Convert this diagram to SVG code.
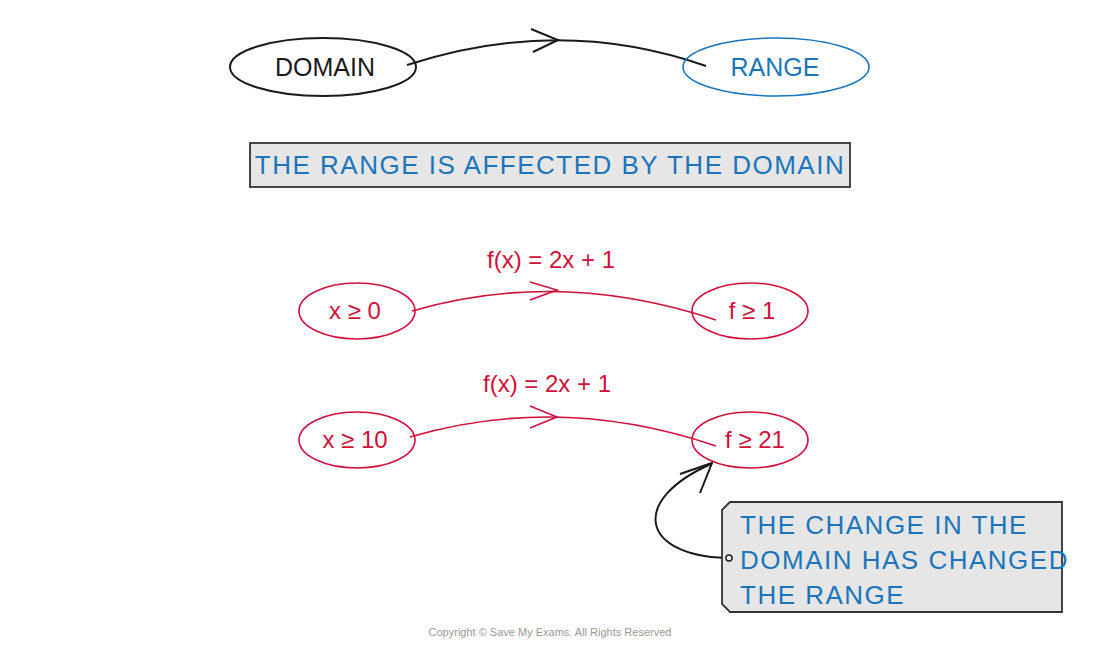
<svg xmlns="http://www.w3.org/2000/svg" width="1100" height="648" viewBox="0 0 1100 648">
<style>
text{font-family:"Liberation Sans",Arial,sans-serif}
.blk{stroke:#1a1a1a;fill:none;stroke-width:2}
.blu{stroke:#1a75bc;fill:none;stroke-width:1.6}
.red{stroke:#d0103a;fill:none;stroke-width:1.6}
.bt{fill:#1a75bc;font-size:26px;letter-spacing:1.5px}
.rt{fill:#d0103a;font-size:24px;text-anchor:middle}
.box{fill:#e6e6e6;stroke:#333;stroke-width:1.8}
</style>
<rect width="1100" height="648" fill="#fff"/>
<g id="connectors">
<path class="blk" d="M407,65 Q560,15 706,66"/>
<path class="blk" d="M531,29 L558,40 L533,52"/>
<path class="red" d="M412,311 Q560,268 716,320"/>
<path class="red" d="M530,282 L557,290 L530,300"/>
<path class="red" d="M410,437 Q560,393 716,446"/>
<path class="red" d="M530,406 L557,417 L530,428"/>
<path class="blk" d="M726,558 C640,555 630,500 711,464"/>
<path class="blk" d="M680,474 L712,463 L700,493"/>
</g>
<g id="domain"><ellipse class="blk" cx="323" cy="67" rx="93" ry="29"/><text x="325" y="76" font-size="25" text-anchor="middle" fill="#1a1a1a">DOMAIN</text></g>
<g id="range"><ellipse class="blu" cx="776" cy="67" rx="93" ry="29"/><text x="775" y="76" font-size="25" text-anchor="middle" fill="#1a75bc">RANGE</text></g>
<g id="statement"><rect class="box" x="250" y="143" width="600" height="44"/><text class="bt" x="550" y="174" text-anchor="middle">THE RANGE IS AFFECTED BY THE DOMAIN</text></g>
<g id="label1"><text class="rt" x="551" y="268">f(x) = 2x + 1</text></g>
<g id="x0"><ellipse class="red" cx="357" cy="311" rx="58" ry="28"/><text class="rt" x="355" y="319">x ≥ 0</text></g>
<g id="f1"><ellipse class="red" cx="750" cy="311" rx="58" ry="28"/><text class="rt" x="752" y="319">f ≥ 1</text></g>
<g id="label2"><text class="rt" x="547" y="392">f(x) = 2x + 1</text></g>
<g id="x10"><ellipse class="red" cx="357" cy="440" rx="58" ry="28"/><text class="rt" x="355" y="448">x ≥ 10</text></g>
<g id="f21"><ellipse class="red" cx="750" cy="440" rx="58" ry="28"/><text class="rt" x="755" y="448">f ≥ 21</text></g>
<g id="callout">
<polygon class="box" points="722,510 730,502 1062,502 1062,612 730,612 722,604"/>
<circle cx="729" cy="558" r="3" fill="#fff" stroke="#1a1a1a" stroke-width="1.5"/>
<text class="bt" x="740" y="534">THE CHANGE IN THE</text>
<text class="bt" x="740" y="569">DOMAIN HAS CHANGED</text>
<text class="bt" x="740" y="604">THE RANGE</text>
</g>
<text x="550" y="636" font-size="11" fill="#999" text-anchor="middle">Copyright © Save My Exams. All Rights Reserved</text>
</svg>
